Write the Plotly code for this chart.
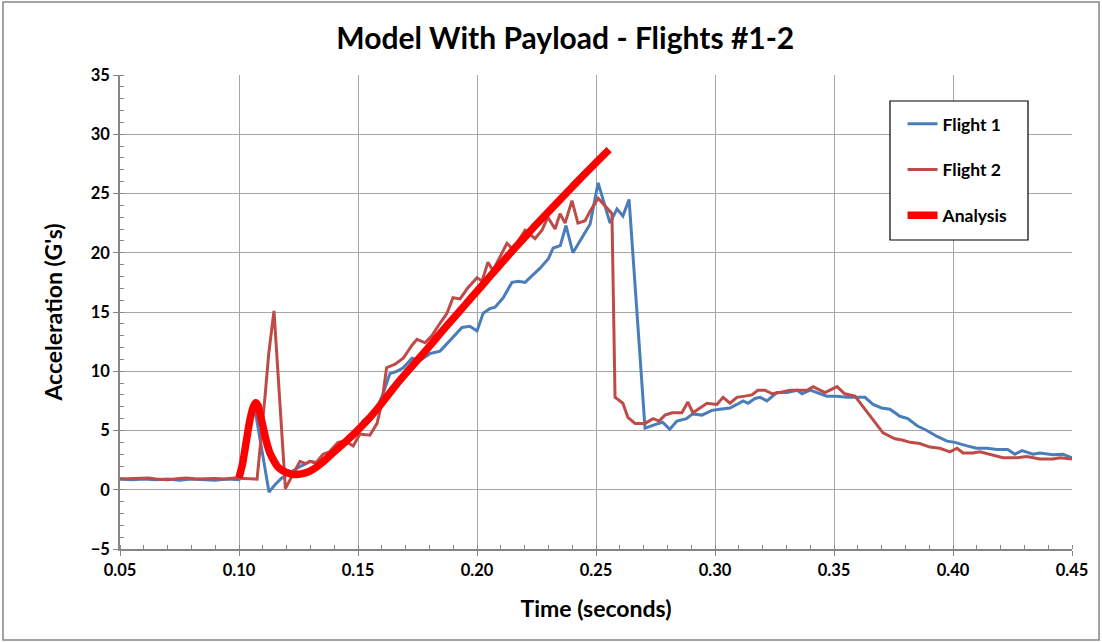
import plotly.graph_objects as go

# ---------------- data ----------------
t_flight1 = [0.050, 0.055, 0.060, 0.065, 0.070, 0.075, 0.080, 0.085, 0.090, 0.095, 0.100,
             0.1025, 0.105, 0.1067, 0.110, 0.1126, 0.115, 0.118, 0.1227, 0.126, 0.130, 0.1325,
             0.134, 0.138, 0.1424, 0.1466, 0.1496, 0.1521, 0.1563, 0.1584, 0.1605, 0.1634,
             0.1664, 0.169, 0.1727, 0.176, 0.1803, 0.1845, 0.1878, 0.1908, 0.1937, 0.197,
             0.200, 0.2026, 0.2055, 0.2076, 0.211, 0.2147, 0.2175, 0.2202, 0.2232, 0.2265,
             0.230, 0.232, 0.235, 0.2374, 0.2403, 0.2433, 0.2475, 0.2509, 0.2559, 0.2588,
             0.2613, 0.2639, 0.2706, 0.2748, 0.278, 0.281, 0.284, 0.288, 0.2906, 0.2945,
             0.2987, 0.302, 0.3062, 0.3092, 0.3118, 0.3139, 0.3168, 0.319, 0.3218, 0.326,
             0.3303, 0.3345, 0.3366, 0.340, 0.343, 0.347, 0.351, 0.3555, 0.359, 0.363,
             0.3664, 0.370, 0.3735, 0.3777, 0.381, 0.3849, 0.389, 0.3933, 0.3975, 0.4008,
             0.4059, 0.410, 0.4143, 0.4185, 0.423, 0.426, 0.429, 0.4336, 0.4365, 0.442,
             0.4462, 0.450]
g_flight1 = [0.9, 0.85, 0.9, 0.85, 0.9, 0.8, 0.9, 0.85, 0.8, 0.9, 0.85,
             3.8, 6.0, 6.8, 3.0, -0.2, 0.4, 1.0, 1.6, 2.0, 2.4, 2.2,
             2.4, 2.9, 3.5, 4.3, 4.7, 5.8, 6.5, 7.1, 8.1, 9.8,
             10.0, 10.3, 11.1, 10.9, 11.5, 11.7, 12.4, 13.0, 13.7, 13.8,
             13.4, 14.9, 15.3, 15.4, 16.2, 17.5, 17.6, 17.5, 18.1, 18.7,
             19.5, 20.4, 20.6, 22.3, 20.0, 21.0, 22.4, 25.9, 22.5, 23.7,
             23.1, 24.5, 5.2, 5.5, 5.7, 5.1, 5.8, 6.0, 6.4, 6.3,
             6.7, 6.8, 6.9, 7.2, 7.5, 7.3, 7.7, 7.8, 7.5, 8.2,
             8.2, 8.4, 8.1, 8.4, 8.2, 7.9, 7.9, 7.8, 7.8, 7.8,
             7.2, 6.9, 6.8, 6.2, 6.0, 5.4, 5.0, 4.5, 4.1, 4.0,
             3.7, 3.5, 3.5, 3.4, 3.4, 3.0, 3.3, 3.0, 3.1, 2.95,
             3.0, 2.7]

t_flight2 = [0.050, 0.055, 0.058, 0.062, 0.065, 0.070, 0.075, 0.078, 0.082, 0.086, 0.090,
             0.094, 0.098, 0.102, 0.1076, 0.111, 0.1125, 0.1147, 0.1195, 0.1256, 0.128,
             0.1298, 0.1325, 0.1353, 0.138, 0.1416, 0.1445, 0.148, 0.1508, 0.155, 0.158,
             0.160, 0.162, 0.1656, 0.169, 0.1727, 0.1748, 0.1782, 0.181, 0.1836, 0.1874,
             0.1899, 0.1929, 0.196, 0.200, 0.2021, 0.2046, 0.2067, 0.2126, 0.2151, 0.2202,
             0.2244, 0.2273, 0.2298, 0.2328, 0.2349, 0.237, 0.2399, 0.2424, 0.2454, 0.2475,
             0.2509, 0.2546, 0.2567, 0.258, 0.2613, 0.2634, 0.2664, 0.2706, 0.274, 0.2765,
             0.279, 0.282, 0.2861, 0.2886, 0.2907, 0.2937, 0.2966, 0.3008, 0.3034, 0.3063,
             0.3092, 0.3126, 0.3155, 0.318, 0.321, 0.324, 0.3273, 0.3315, 0.3357, 0.3387,
             0.3412, 0.3462, 0.3513, 0.3545, 0.3588, 0.3618, 0.366, 0.3706, 0.3756, 0.3786,
             0.382, 0.386, 0.3903, 0.3945, 0.3987, 0.4017, 0.4042, 0.4084, 0.4113, 0.4155,
             0.421, 0.427, 0.431, 0.4365, 0.442, 0.445, 0.450]
g_flight2 = [0.9, 0.95, 1.0, 1.0, 0.9, 0.85, 0.95, 1.0, 0.9, 0.95, 0.95,
             0.9, 1.0, 0.95, 0.9, 8.0, 11.5, 15.1, 0.1, 2.4, 2.2,
             2.4, 2.3, 3.0, 3.2, 4.0, 4.1, 3.7, 4.7, 4.6, 5.6,
             7.3, 10.3, 10.6, 11.1, 12.2, 12.7, 12.4, 13.0, 13.8, 14.9,
             16.2, 16.1, 17.0, 17.9, 17.6, 19.2, 18.5, 20.8, 20.3, 21.9,
             21.2, 21.9, 23.0, 22.0, 23.3, 22.5, 24.4, 22.5, 22.7, 23.5,
             24.6, 23.8, 23.3, 7.8, 7.3, 6.1, 5.6, 5.6, 6.0, 5.8,
             6.3, 6.5, 6.5, 7.4, 6.5, 6.9, 7.3, 7.2, 7.8, 7.3,
             7.8, 7.9, 8.0, 8.4, 8.4, 8.1, 8.2, 8.4, 8.4, 8.4,
             8.7, 8.2, 8.7, 8.1, 7.9, 7.1, 6.0, 4.8, 4.3, 4.2,
             4.0, 3.9, 3.6, 3.5, 3.2, 3.5, 3.1, 3.1, 3.2, 3.0,
             2.7, 2.7, 2.8, 2.6, 2.6, 2.7, 2.6]

t_analysis = [0.1000, 0.1015, 0.1030, 0.1045, 0.1060, 0.1070, 0.1080, 0.1090, 0.1100,
              0.1110, 0.1120, 0.1130, 0.1145, 0.1160, 0.1180, 0.1200, 0.1225, 0.1250,
              0.1275, 0.1300, 0.1325, 0.1350, 0.1375, 0.1400, 0.1425, 0.1450, 0.1475,
              0.1500, 0.155, 0.160, 0.165, 0.170, 0.175, 0.180, 0.185, 0.190, 0.195,
              0.200, 0.205, 0.210, 0.215, 0.220, 0.225, 0.230, 0.235, 0.240, 0.245,
              0.250, 0.2555]
g_analysis = [1.0, 2.2, 4.0, 5.8, 7.0, 7.35, 7.1, 6.3, 5.4,
              4.5, 3.7, 3.1, 2.5, 2.0, 1.65, 1.45, 1.3, 1.3,
              1.4, 1.6, 1.9, 2.3, 2.75, 3.2, 3.65, 4.1, 4.55,
              5.05, 6.1, 7.3, 8.6, 9.8, 10.95, 12.1, 13.3, 14.45, 15.6,
              16.75, 17.9, 19.05, 20.2, 21.3, 22.4, 23.45, 24.5, 25.55, 26.6,
              27.6, 28.7]

x_ticks = [0.05, 0.10, 0.15, 0.20, 0.25, 0.30, 0.35, 0.40, 0.45]
y_ticks = [-5, 0, 5, 10, 15, 20, 25, 30, 35]

# ---------------- figure ----------------
FONT = "Lato, 'Open Sans', sans-serif"
fig = go.Figure()
fig.add_trace(go.Scatter(x=t_flight1, y=g_flight1, mode="lines", name="Flight 1",
                         line=dict(color="#4A7EBB", width=3), legendgroup="a"))
fig.add_trace(go.Scatter(x=t_flight2, y=g_flight2, mode="lines", name="Flight 2",
                         line=dict(color="#BE4B48", width=3), legendgroup="b"))
fig.add_trace(go.Scatter(x=t_analysis, y=g_analysis, mode="lines", name="Analysis",
                         line=dict(color="#FF0000", width=7.5, shape="spline", smoothing=0.6),
                         legendgroup="c"))

axis_common = dict(
    showgrid=True, gridcolor="#A6A6A6", gridwidth=1,
    showline=True, linecolor="#868686", linewidth=1.5,
    zeroline=False,
    ticks="outside", ticklen=5, tickcolor="#868686",
    tickfont=dict(family=FONT, size=16.5, color="black", weight="bold"),
)

fig.update_xaxes(range=[0.05, 0.45], tickvals=x_ticks,
                 ticktext=[f"{v:.2f}" for v in x_ticks],
                 minor=dict(dtick=0.01, ticks="inside", ticklen=4, tickcolor="#868686",
                            showgrid=False),
                 title=dict(text="Time (seconds)", standoff=22,
                            font=dict(family=FONT, size=23, color="black", weight="bold")),
                 **axis_common)
fig.update_yaxes(range=[-5, 35], tickvals=y_ticks,
                 minor=dict(dtick=1, ticks="inside", ticklen=4, tickcolor="#868686",
                            showgrid=False),
                 title=dict(text="Acceleration (G's)", standoff=22,
                            font=dict(family=FONT, size=23, color="black", weight="bold")),
                 **axis_common)

fig.update_layout(
    width=1102, height=642,
    margin=dict(l=120, r=30, t=75, b=93),
    paper_bgcolor="white", plot_bgcolor="white",
    title=dict(text="Model With Payload - Flights #1-2", x=0.513, xanchor="center",
               y=0.94, yanchor="middle",
               font=dict(family=FONT, size=30, color="black", weight="bold")),
    legend=dict(x=0.822, y=0.9346, xanchor="left", yanchor="top",
                borderwidth=0, bgcolor="rgba(0,0,0,0)",
                font=dict(family=FONT, size=17.5, color="black", weight="bold"),
                tracegroupgap=20, itemwidth=30),
    showlegend=True,
)

# legend frame
fig.add_shape(type="rect", xref="paper", yref="paper",
              x0=0.8088, x1=0.9538, y0=0.6519, y1=0.9451,
              line=dict(color="black", width=1.2), fillcolor="white", layer="above")

# outer chart-area border
fig.add_shape(type="rect", xref="paper", yref="paper",
              x0=-0.1229, x1=1.0284, y0=-0.192, y1=1.154,
              line=dict(color="#868686", width=1.5), fillcolor="rgba(0,0,0,0)",
              layer="below")

fig.write_html("out.html", config={"displayModeBar": False},
               post_script="document.body.style.margin='0px';document.body.style.overflow='hidden';")
